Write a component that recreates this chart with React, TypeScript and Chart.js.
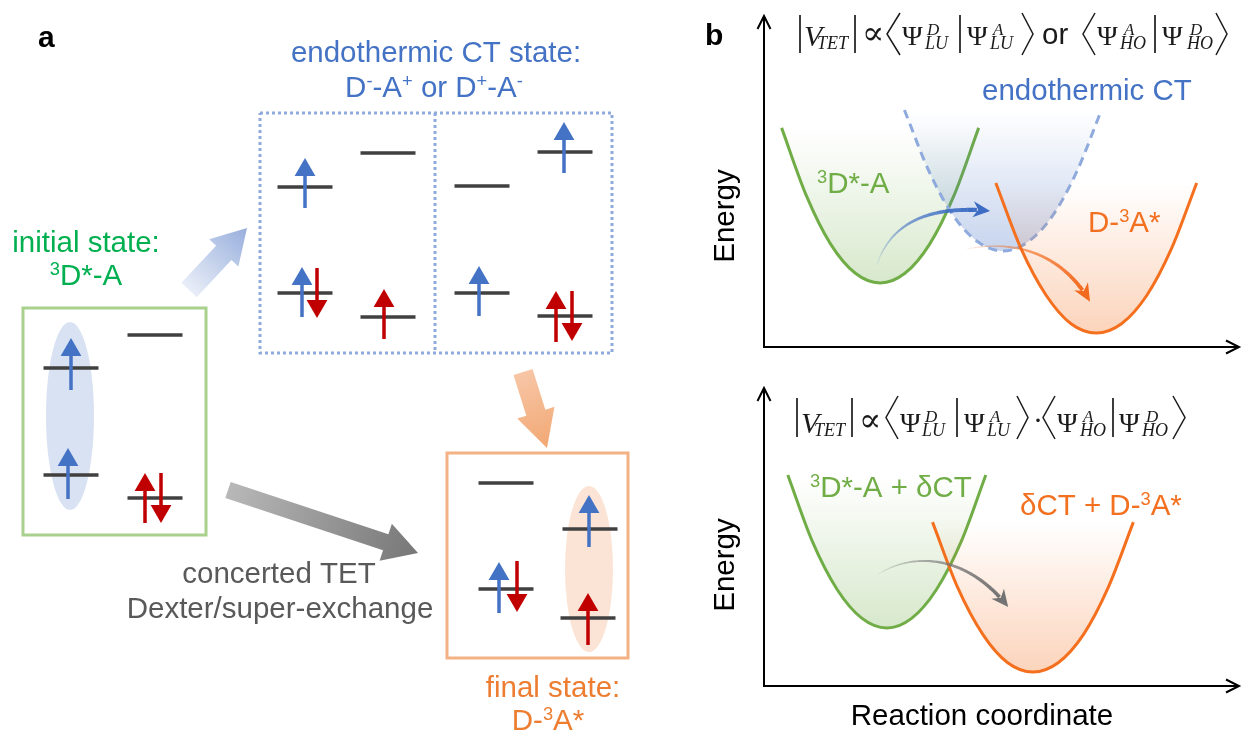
import React, { useEffect, useRef } from 'react';
import { Chart, registerables } from 'chart.js';
Chart.register(...registerables);

const SANS = "'Liberation Sans', Arial, Helvetica, sans-serif";
const SERIF = "'Liberation Serif', 'Times New Roman', 'DejaVu Serif', serif";
const FS = 29.5;

// ---------------- Panel a : orbital diagram (figure pixel units) ----------------
const LEVEL_HALF = 27.5;
const HEAD_R = 12;
const initialLevels = [[71, 368], [155, 335], [71, 475], [155, 498]];
const ctLevels = [[305, 187], [388, 153], [305, 293], [388, 317], [482, 186], [565, 152], [482, 293], [565, 316]];
const finalLevels = [[506, 483], [590, 529], [506, 589], [588, 618]];
const blueUpSpins = [[71, 390, 338], [68, 499, 448], [305, 208, 158], [302, 317, 267], [564, 173, 122], [479, 316, 266], [589, 547, 495], [499, 613, 562]];
const redUpSpins = [[145, 523, 473], [384, 339, 289], [556, 342, 291], [588, 645, 593]];
const redDownSpins = [[161, 473, 523], [317, 268, 318], [572, 291, 341], [517, 561, 612]];
const initialBox = [23, 308, 206, 535];
const ctBox = [260, 113, 612, 353];
const ctDividerX = 435;
const finalBox = [447, 453, 628, 658];
const donorOrbital = [70, 416, 24, 94];
const acceptorOrbital = [589, 569, 24, 83];
const toCtArrow = [189, 290, 247, 228];
const concertedArrow = [228, 490, 418, 553];
const toFinalArrow = [523, 372, 547, 448];

// ---------------- Panel b : potential energy surfaces (reaction coordinate / energy units) ----------------
const greenTopX = [0.37, 0.89, 1.40, 1.92, 2.44, 2.96, 3.48, 3.99, 4.51];
const greenTopY = [6.60, 4.56, 3.10, 2.22, 1.93, 2.22, 3.10, 4.56, 6.60];
const ctTopX = [2.95, 3.47, 3.98, 4.50, 5.02, 5.54, 6.06, 6.57, 7.09];
const ctTopY = [7.14, 5.28, 3.95, 3.16, 2.89, 3.16, 3.95, 5.28, 7.14];
const orangeTopX = [4.87, 5.40, 5.93, 6.45, 6.98, 7.51, 8.04, 8.56, 9.09];
const orangeTopY = [4.94, 2.96, 1.55, 0.70, 0.42, 0.70, 1.55, 2.96, 4.94];
const greenBotX = [0.50, 1.02, 1.54, 2.06, 2.58, 3.10, 3.62, 4.14, 4.66];
const greenBotY = [7.06, 4.82, 3.22, 2.26, 1.94, 2.26, 3.22, 4.82, 7.06];
const orangeBotX = [3.54, 4.07, 4.60, 5.12, 5.65, 6.18, 6.71, 7.23, 7.76];
const orangeBotY = [5.48, 3.29, 1.72, 0.78, 0.47, 0.78, 1.72, 3.29, 5.48];
const ctHopTop = [[2.37, 2.47], [2.65, 3.67], [3.38, 4.28], [4.75, 4.10]];
const relaxTop = [[4.26, 2.95], [5.17, 3.22], [6.22, 2.92], [6.85, 1.36]];
const tetBottom = [[2.37, 3.71], [3.07, 4.45], [4.22, 4.48], [5.13, 2.64]];

// ---------------- helpers ----------------
function rich(ctx: CanvasRenderingContext2D, parts: [string, string][], x: number, y: number, size: number, color: string, align: 'left' | 'center' = 'left', weight = 'normal') {
  const sup = size * 0.62;
  const fontOf = (k: string) => `${weight} ${k === 'sup' ? sup : size}px ${SANS}`;
  const widths = parts.map(([t, k]) => { ctx.font = fontOf(k); return ctx.measureText(t).width; });
  const total = widths.reduce((a, b) => a + b, 0);
  let cx = align === 'center' ? x - total / 2 : x;
  ctx.fillStyle = color;
  ctx.textAlign = 'left';
  ctx.textBaseline = 'alphabetic';
  parts.forEach(([t, k], i) => {
    ctx.font = fontOf(k);
    ctx.fillText(t, cx, k === 'sup' ? y - size * 0.35 : y);
    cx += widths[i];
  });
}

function blockArrow(ctx: CanvasRenderingContext2D, X: (v: number) => number, Y: (v: number) => number, a: number[], sw: number, hw: number, hl: number, c0: string, c1: string) {
  const ax = X(a[0]), ay = Y(a[1]), bx = X(a[2]), by = Y(a[3]);
  const dx = bx - ax, dy = by - ay, L = Math.hypot(dx, dy);
  const ux = dx / L, uy = dy / L, nx = -uy, ny = ux;
  const kx = bx - ux * hl, ky = by - uy * hl;
  ctx.beginPath();
  ctx.moveTo(ax + nx * sw, ay + ny * sw);
  ctx.lineTo(kx + nx * sw, ky + ny * sw);
  ctx.lineTo(kx + nx * hw, ky + ny * hw);
  ctx.lineTo(bx, by);
  ctx.lineTo(kx - nx * hw, ky - ny * hw);
  ctx.lineTo(kx - nx * sw, ky - ny * sw);
  ctx.lineTo(ax - nx * sw, ay - ny * sw);
  ctx.closePath();
  const g = ctx.createLinearGradient(ax, ay, bx, by);
  g.addColorStop(0, c0);
  g.addColorStop(1, c1);
  ctx.fillStyle = g;
  ctx.fill();
}

function taperArrow(ctx: CanvasRenderingContext2D, pts: number[][], rgb: string, w0: number, w1: number, a0: number, hl: number, hw: number) {
  const [p0, p1, p2, p3] = pts;
  const bz = (t: number) => {
    const m = 1 - t;
    return [
      m * m * m * p0[0] + 3 * m * m * t * p1[0] + 3 * m * t * t * p2[0] + t * t * t * p3[0],
      m * m * m * p0[1] + 3 * m * m * t * p1[1] + 3 * m * t * t * p2[1] + t * t * t * p3[1],
    ];
  };
  let tStop = 1;
  while (tStop > 0) {
    const q = bz(tStop);
    if (Math.hypot(q[0] - p3[0], q[1] - p3[1]) >= hl * 0.75) break;
    tStop -= 0.005;
  }
  const N = 70;
  ctx.lineCap = 'butt';
  for (let i = 0; i < N; i++) {
    const t0 = (i / N) * tStop, t1 = ((i + 1.15) / N) * tStop;
    const q0 = bz(t0), q1 = bz(Math.min(t1, tStop));
    const f = (i + 1) / N;
    ctx.beginPath();
    ctx.moveTo(q0[0], q0[1]);
    ctx.lineTo(q1[0], q1[1]);
    ctx.lineWidth = w0 + (w1 - w0) * f;
    ctx.strokeStyle = `rgba(${rgb},${a0 + (1 - a0) * Math.pow(f, 0.8)})`;
    ctx.stroke();
  }
  let ux = p3[0] - p2[0], uy = p3[1] - p2[1];
  const L = Math.hypot(ux, uy);
  ux /= L; uy /= L;
  const nx = -uy, ny = ux;
  const bx = p3[0] - ux * hl, by = p3[1] - uy * hl;
  ctx.beginPath();
  ctx.moveTo(p3[0], p3[1]);
  ctx.lineTo(bx + nx * hw, by + ny * hw);
  ctx.lineTo(p3[0] - ux * hl * 0.7, p3[1] - uy * hl * 0.7);
  ctx.lineTo(bx - nx * hw, by - ny * hw);
  ctx.closePath();
  ctx.fillStyle = `rgb(${rgb})`;
  ctx.fill();
}

type Tok = [string, number, (string | number)?];
function drawFormula(ctx: CanvasRenderingContext2D, items: Tok[], B: number, top: number, bot: number, ox: number, oy: number) {
  ctx.save();
  ctx.fillStyle = '#1a1a1a';
  ctx.strokeStyle = '#1a1a1a';
  ctx.textAlign = 'left';
  ctx.textBaseline = 'alphabetic';
  ctx.lineJoin = 'miter';
  const b = B - oy, t = top - oy, bt = bot - oy, mid = (t + bt) / 2;
  for (const [k, x, a] of items) {
    const x0 = x - ox;
    if (k === 'bar') {
      ctx.lineWidth = 1.7;
      ctx.beginPath(); ctx.moveTo(x0, t); ctx.lineTo(x0, bt); ctx.stroke();
    } else if (k === 'lang' || k === 'rang') {
      const x1 = (a as number) - ox;
      ctx.lineWidth = 1.5;
      ctx.beginPath();
      if (k === 'lang') { ctx.moveTo(x1, t - 2); ctx.lineTo(x0, mid); ctx.lineTo(x1, bt + 2); }
      else { ctx.moveTo(x0, t - 2); ctx.lineTo(x1, mid); ctx.lineTo(x0, bt + 2); }
      ctx.stroke();
    } else if (k === 'it') {
      ctx.font = `italic 30px ${SERIF}`; ctx.fillText(a as string, x0, b + 1);
    } else if (k === 'psi') {
      ctx.font = `28px ${SERIF}`; ctx.fillText('\u03A8', x0, b);
    } else if (k === 'sup') {
      ctx.font = `italic 17px ${SERIF}`; ctx.fillText(a as string, x0, b - 10);
    } else if (k === 'sub') {
      ctx.font = `italic 18px ${SERIF}`; ctx.fillText(a as string, x0, b + 4);
    } else if (k === 'sym') {
      ctx.font = `33px ${SERIF}`; ctx.fillText(a as string, x0, b - 1);
    } else if (k === 'or') {
      ctx.font = `${FS}px ${SANS}`; ctx.fillText(a as string, x0, b - 1);
    } else if (k === 'dot') {
      ctx.font = `30px ${SERIF}`; ctx.fillText('\u00B7', x0, b - 2);
    }
  }
  ctx.restore();
}

const formulaTop: Tok[] = [
  ['bar', 800], ['it', 804, 'V'], ['sub', 817, 'TET'], ['bar', 855], ['sym', 862, '\u221D'], ['lang', 887, 900],
  ['psi', 902], ['sup', 927, 'D'], ['sub', 925, 'LU'], ['bar', 960],
  ['psi', 967], ['sup', 993, 'A'], ['sub', 990, 'LU'], ['rang', 1022, 1033],
  ['or', 1042, 'or'], ['lang', 1083, 1095],
  ['psi', 1097], ['sup', 1124, 'A'], ['sub', 1120, 'HO'], ['bar', 1155],
  ['psi', 1162], ['sup', 1190, 'D'], ['sub', 1187, 'HO'], ['rang', 1216, 1227],
];
const formulaBot: Tok[] = [
  ['bar', 797], ['it', 801, 'V'], ['sub', 814, 'TET'], ['bar', 852], ['sym', 859, '\u221D'], ['lang', 886, 898],
  ['psi', 900], ['sup', 925, 'D'], ['sub', 922, 'LU'], ['bar', 957],
  ['psi', 964], ['sup', 990, 'A'], ['sub', 987, 'LU'], ['rang', 1017, 1028],
  ['dot', 1033], ['lang', 1043, 1055],
  ['psi', 1057], ['sup', 1083, 'A'], ['sub', 1080, 'HO'], ['bar', 1113],
  ['psi', 1119], ['sup', 1146, 'D'], ['sub', 1142, 'HO'], ['rang', 1173, 1185],
];

// ---------------- Panel a chart ----------------
const panelAPlugin = {
  id: 'panelA',
  beforeDatasetsDraw(chart: any) {
    const { ctx } = chart;
    const sx = chart.scales.x, sy = chart.scales.y;
    const X = (v: number) => sx.getPixelForValue(v), Y = (v: number) => sy.getPixelForValue(v);
    ctx.save();
    ([[donorOrbital, '#d9e2f3'], [acceptorOrbital, '#fbe4d5']] as [number[], string][]).forEach(([o, c]) => {
      const [cx, cy, rx, ry] = o;
      ctx.beginPath();
      ctx.ellipse(X(cx), Y(cy), Math.abs(X(cx + rx) - X(cx)), Math.abs(Y(cy + ry) - Y(cy)), 0, 0, Math.PI * 2);
      ctx.fillStyle = c;
      ctx.fill();
    });
    blockArrow(ctx, X, Y, toCtArrow, 10.5, 20, 34, '#e9eef8', '#97aedc');
    blockArrow(ctx, X, Y, concertedArrow, 8.5, 19.5, 34, '#b8b8b8', '#777777');
    blockArrow(ctx, X, Y, toFinalArrow, 10, 19.5, 37, '#f7c6a6', '#f2a874');
    ctx.restore();
  },
  afterDatasetsDraw(chart: any) {
    const { ctx } = chart;
    const sx = chart.scales.x, sy = chart.scales.y;
    const X = (v: number) => sx.getPixelForValue(v), Y = (v: number) => sy.getPixelForValue(v);
    ctx.save();
    rich(ctx, [['a', '']], X(38), Y(47), 30, '#000', 'left', 'bold');
    rich(ctx, [['endothermic CT state:', '']], X(436), Y(62), FS, '#4472c4', 'center');
    rich(ctx, [['D', ''], ['-', 'sup'], ['-A', ''], ['+', 'sup'], [' or D', ''], ['+', 'sup'], ['-A', ''], ['-', 'sup']], X(434), Y(97), FS, '#4472c4', 'center');
    rich(ctx, [['initial state:', '']], X(86), Y(252), FS, '#00b050', 'center');
    rich(ctx, [['3', 'sup'], ['D*-A', '']], X(86), Y(285), FS, '#00b050', 'center');
    rich(ctx, [['concerted TET', '']], X(279), Y(583), FS, '#595959', 'center');
    rich(ctx, [['Dexter/super-exchange', '']], X(280), Y(618), FS, '#595959', 'center');
    rich(ctx, [['final state:', '']], X(553), Y(697), FS, '#ed7d31', 'center');
    rich(ctx, [['D-', ''], ['3', 'sup'], ['A*', '']], X(548), Y(730), FS, '#ed7d31', 'center');
    ctx.restore();
  },
};

function PanelA() {
  const ref = useRef<HTMLCanvasElement>(null);
  useEffect(() => {
    const levelPts = (lv: number[][]) => lv.flatMap(([cx, y]) => [{ x: cx - LEVEL_HALF, y }, { x: cx + LEVEL_HALF, y }, { x: cx, y: null }]);
    const rect = (r: number[]) => [{ x: r[0], y: r[1] }, { x: r[2], y: r[1] }, { x: r[2], y: r[3] }, { x: r[0], y: r[3] }, { x: r[0], y: r[1] }];
    const shafts = (sp: number[][], dir: number) => sp.flatMap(([x, a, b]) => [{ x, y: a }, { x, y: b + dir * HEAD_R }, { x, y: null }]);
    const heads = (sp: number[][], dir: number) => sp.map(([x, , b]) => ({ x, y: b + dir * HEAD_R }));
    const lineDs = (label: string, data: any[], color: string, width: number, order: number, dash: number[] = [], cap = 'butt') => ({
      type: 'line', label, data, borderColor: color, borderWidth: width, borderDash: dash, pointRadius: 0,
      fill: false, spanGaps: false, tension: 0, order, borderCapStyle: cap, borderJoinStyle: 'miter',
    });
    const headDs = (label: string, data: any[], color: string, rot: number, order: number) => ({
      type: 'line', label, data, showLine: false, pointStyle: 'triangle', pointRadius: HEAD_R, pointRotation: rot,
      pointBackgroundColor: color, pointBorderColor: color, pointBorderWidth: 0, order,
    });
    const chart = new Chart(ref.current!, {
      type: 'line',
      data: {
        datasets: [
          lineDs('initial box', rect(initialBox), '#a9d18e', 3, 10, [], 'square'),
          lineDs('CT box', rect(ctBox), '#8faadc', 3, 10, [3, 3]),
          lineDs('CT divider', [{ x: ctDividerX, y: ctBox[1] }, { x: ctDividerX, y: ctBox[3] }], '#8faadc', 3, 10, [3, 3]),
          lineDs('final box', rect(finalBox), '#f4b183', 3, 10, [], 'square'),
          lineDs('levels', [...levelPts(initialLevels), ...levelPts(ctLevels), ...levelPts(finalLevels)], '#404040', 3.5, 8),
          lineDs('blue up', shafts(blueUpSpins, 1), '#4472c4', 3.5, 6),
          lineDs('red up', shafts(redUpSpins, 1), '#c00000', 3.5, 6),
          lineDs('red down', shafts(redDownSpins, -1), '#c00000', 3.5, 6),
          headDs('blue up heads', heads(blueUpSpins, 1), '#4472c4', 0, 4),
          headDs('red up heads', heads(redUpSpins, 1), '#c00000', 0, 4),
          headDs('red down heads', heads(redDownSpins, -1), '#c00000', 180, 4),
        ] as any,
      },
      options: {
        animation: false, responsive: false, events: [],
        layout: { padding: 0, autoPadding: false },
        scales: {
          x: { type: 'linear', min: 0, max: 700, display: false },
          y: { type: 'linear', min: 0, max: 733, reverse: true, display: false },
        },
        plugins: { legend: { display: false }, tooltip: { enabled: false } },
      },
      plugins: [panelAPlugin],
    });
    return () => chart.destroy();
  }, []);
  return <canvas ref={ref} width={700} height={733} style={{ position: 'absolute', left: 0, top: 0, width: 700, height: 733 }} />;
}

// ---------------- Panel b charts ----------------
function vGrad(rgb: string, yLow: number, yHigh: number, a0: number, a1: number) {
  return (c: any) => {
    const chart = c.chart;
    const ys = chart.scales && chart.scales.y;
    if (!chart.chartArea || !ys) return `rgba(${rgb},${a0})`;
    const g = chart.ctx.createLinearGradient(0, ys.getPixelForValue(yLow), 0, ys.getPixelForValue(yHigh));
    g.addColorStop(0, `rgba(${rgb},${a0})`);
    g.addColorStop(1, `rgba(${rgb},${a1})`);
    return g;
  };
}

const zip = (xs: number[], ys: number[]) => xs.map((x, i) => ({ x, y: ys[i] }));

function curve(label: string, xs: number[], ys: number[], color: string, rgb: string, order: number, alpha: number, dash: number[] = []) {
  return {
    type: 'line', label, data: zip(xs, ys), borderColor: color, borderWidth: 3, borderDash: dash,
    pointRadius: 0, cubicInterpolationMode: 'monotone', order,
    fill: { value: ys[0] }, backgroundColor: vGrad(rgb, Math.min(...ys), ys[0], alpha, 0.0),
  };
}

function makeBPlugin(kind: 'top' | 'bottom', ox: number, oy: number) {
  return {
    id: 'panelB' + kind,
    afterDatasetsDraw(chart: any) {
      const { ctx } = chart;
      const sx = chart.scales.x, sy = chart.scales.y;
      const P = (p: number[]) => [sx.getPixelForValue(p[0]), sy.getPixelForValue(p[1])];
      ctx.save();
      // axes with arrow heads
      const x0 = sx.getPixelForValue(sx.min), y0 = sy.getPixelForValue(sy.min);
      const xEnd = sx.getPixelForValue(sx.max), yEnd = sy.getPixelForValue(sy.max);
      ctx.strokeStyle = '#000';
      ctx.lineWidth = 2;
      ctx.beginPath();
      ctx.moveTo(x0, yEnd + 1); ctx.lineTo(x0, y0); ctx.lineTo(xEnd - 1, y0);
      ctx.stroke();
      ctx.lineJoin = 'miter';
      ctx.beginPath();
      ctx.moveTo(x0 - 6.5, yEnd + 14); ctx.lineTo(x0, yEnd + 1); ctx.lineTo(x0 + 6.5, yEnd + 14);
      ctx.moveTo(xEnd - 14, y0 - 6.5); ctx.lineTo(xEnd - 1, y0); ctx.lineTo(xEnd - 14, y0 + 6.5);
      ctx.stroke();
      // axis title
      ctx.fillStyle = '#000';
      ctx.font = `${FS}px ${SANS}`;
      ctx.textAlign = 'center';
      ctx.textBaseline = 'alphabetic';
      ctx.save();
      ctx.translate(734 - ox, (kind === 'top' ? 216 : 565) - oy);
      ctx.rotate(-Math.PI / 2);
      ctx.fillText('Energy', 0, 0);
      ctx.restore();
      if (kind === 'top') {
        rich(ctx, [['b', '']], 705 - ox, 45 - oy, 30, '#000', 'left', 'bold');
        drawFormula(ctx, formulaTop, 45, 15, 53, ox, oy);
        rich(ctx, [['endothermic CT', '']], 982 - ox, 100 - oy, FS, '#4472c4');
        rich(ctx, [['3', 'sup'], ['D*-A', '']], 817 - ox, 193 - oy, FS, '#70ad47');
        rich(ctx, [['D-', ''], ['3', 'sup'], ['A*', '']], 1088 - ox, 232 - oy, FS, '#f37021');
        taperArrow(ctx, ctHopTop.map(P), '60,108,196', 0.8, 4.2, 0.05, 17, 8);
        taperArrow(ctx, relaxTop.map(P), '242,106,30', 0.8, 3.8, 0.05, 18, 8);
      } else {
        drawFormula(ctx, formulaBot, 432, 398, 437, ox, oy);
        rich(ctx, [['3', 'sup'], ['D*-A + \u03B4CT', '']], 810 - ox, 497 - oy, FS, '#70ad47');
        rich(ctx, [['\u03B4CT + D-', ''], ['3', 'sup'], ['A*', '']], 1020 - ox, 515 - oy, FS, '#f37021');
        ctx.fillStyle = '#000';
        ctx.font = `${FS}px ${SANS}`;
        ctx.textAlign = 'center';
        ctx.fillText('Reaction coordinate', 982 - ox, 725 - oy);
        taperArrow(ctx, tetBottom.map(P), '115,115,115', 0.8, 3.6, 0.05, 17, 8);
      }
      ctx.restore();
    },
  };
}

function PanelB({ kind }: { kind: 'top' | 'bottom' }) {
  const ref = useRef<HTMLCanvasElement>(null);
  const ox = 690, oy = kind === 'top' ? 0 : 360;
  const h = kind === 'top' ? 360 : 373;
  useEffect(() => {
    const datasets = kind === 'top'
      ? [
        curve('³D*-A', greenTopX, greenTopY, '#70ad47', '112,173,71', 3, 0.28),
        curve('endothermic CT', ctTopX, ctTopY, '#8faadc', '68,114,196', 2, 0.3, [9, 6]),
        curve('D-³A*', orangeTopX, orangeTopY, '#f4701f', '244,112,31', 1, 0.3),
      ]
      : [
        curve('³D*-A + δCT', greenBotX, greenBotY, '#70ad47', '112,173,71', 3, 0.28),
        curve('δCT + D-³A*', orangeBotX, orangeBotY, '#f4701f', '244,112,31', 1, 0.3),
      ];
    const padding = kind === 'top'
      ? { left: 74, right: 2, top: 15, bottom: 13 }
      : { left: 74, right: 2, top: 27, bottom: 47 };
    const chart = new Chart(ref.current!, {
      type: 'line',
      data: { datasets: datasets as any },
      options: {
        animation: false, responsive: false, events: [],
        layout: { padding, autoPadding: false },
        scales: {
          x: { type: 'linear', min: 0, max: 10, display: false },
          y: { type: 'linear', min: 0, max: 10, display: false },
        },
        plugins: { legend: { display: false }, tooltip: { enabled: false } },
      },
      plugins: [makeBPlugin(kind, ox, oy)],
    });
    return () => chart.destroy();
  }, [kind]);
  return <canvas ref={ref} width={552} height={h} style={{ position: 'absolute', left: ox, top: oy, width: 552, height: h }} />;
}

export default function App() {
  useEffect(() => {
    document.body.style.margin = '0';
    document.body.style.overflow = 'hidden';
    document.body.style.background = '#fff';
  }, []);
  return (
    <div style={{ position: 'relative', width: 1242, height: 733, background: '#fff', overflow: 'hidden' }}>
      <style>{'body{margin:0;overflow:hidden;background:#fff}'}</style>
      <PanelA />
      <PanelB kind="top" />
      <PanelB kind="bottom" />
    </div>
  );
}
